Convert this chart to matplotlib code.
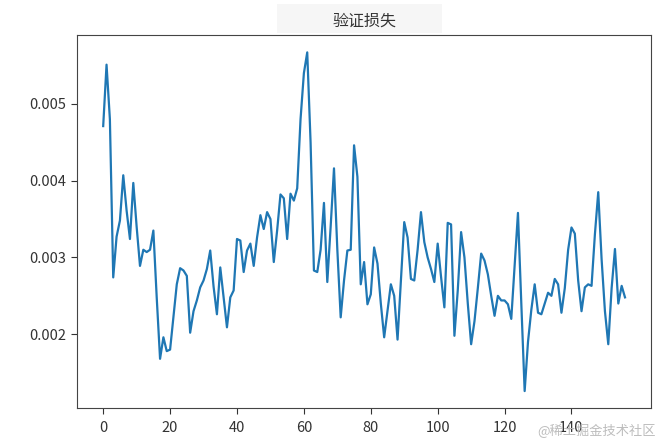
import matplotlib
matplotlib.use("Agg")
import matplotlib.pyplot as plt
from matplotlib.patches import Rectangle

plt.rcParams['font.family'] = ['Noto Sans CJK SC', 'DejaVu Sans']
plt.rcParams['axes.unicode_minus'] = False

title = '验证损失'
watermark = '@稀土掘金技术社区'

# validation loss per epoch
val_loss = [
    0.00471, 0.00551, 0.00480, 0.00274, 0.00327, 0.00348, 0.00407, 0.00361, 0.00324, 0.00397,
    0.00340, 0.00289, 0.00310, 0.00307, 0.00310, 0.00335, 0.00248, 0.00168, 0.00196, 0.00178,
    0.00180, 0.00222, 0.00265, 0.00286, 0.00283, 0.00276, 0.00202, 0.00230, 0.00244, 0.00261,
    0.00270, 0.00285, 0.00309, 0.00262, 0.00226, 0.00287, 0.00248, 0.00209, 0.00248, 0.00257,
    0.00324, 0.00322, 0.00281, 0.00309, 0.00318, 0.00289, 0.00326, 0.00355, 0.00337, 0.00359,
    0.00350, 0.00294, 0.00335, 0.00382, 0.00377, 0.00324, 0.00383, 0.00374, 0.00390, 0.00480,
    0.00540, 0.00567, 0.00450, 0.00283, 0.00281, 0.00310, 0.00371, 0.00268, 0.00340, 0.00416,
    0.00310, 0.00222, 0.00270, 0.00309, 0.00310, 0.00446, 0.00405, 0.00265, 0.00294, 0.00239,
    0.00252, 0.00313, 0.00292, 0.00240, 0.00196, 0.00230, 0.00265, 0.00250, 0.00193, 0.00270,
    0.00346, 0.00326, 0.00272, 0.00270, 0.00310, 0.00359, 0.00320, 0.00300, 0.00285, 0.00268,
    0.00318, 0.00275, 0.00235, 0.00345, 0.00343, 0.00198, 0.00257, 0.00333, 0.00300, 0.00240,
    0.00187, 0.00217, 0.00260, 0.00305, 0.00296, 0.00278, 0.00250, 0.00224, 0.00250, 0.00244,
    0.00244, 0.00239, 0.00220, 0.00290, 0.00358, 0.00240, 0.00126, 0.00190, 0.00232, 0.00265,
    0.00228, 0.00226, 0.00240, 0.00254, 0.00250, 0.00272, 0.00265, 0.00228, 0.00260, 0.00310,
    0.00339, 0.00331, 0.00270, 0.00230, 0.00261, 0.00265, 0.00263, 0.00330, 0.00385, 0.00298,
    0.00230, 0.00187, 0.00260, 0.00311, 0.00240, 0.00263, 0.00248,
]

fig = plt.figure(figsize=(6.59, 4.43), dpi=100)
ax = fig.add_axes([0.117, 0.079, 0.871, 0.841])

# faint grey band behind the title, as in the screenshot
fig.patches.append(Rectangle((0.42, 0.925), 0.25, 0.065, transform=fig.transFigure,
                             facecolor='#f6f6f6', edgecolor='none', zorder=-1))

ax.plot(range(len(val_loss)), val_loss, color='#1f77b4', linewidth=1.6)
ax.set_title(title, fontsize=11.5, color='#333333', pad=7)
ax.set_xticks(range(0, 141, 20))
ax.set_yticks([0.002, 0.003, 0.004, 0.005])
ax.tick_params(labelsize=10.5, colors='#333333', length=4.5)
ax.tick_params(axis='x', pad=5)
for s in ax.spines.values():
    s.set_color('#444444')

fig.text(0.995, 0.012, watermark, ha='right', va='bottom', fontsize=9.5, color='#bdbdbd')

fig.savefig('out.png', dpi=100)
